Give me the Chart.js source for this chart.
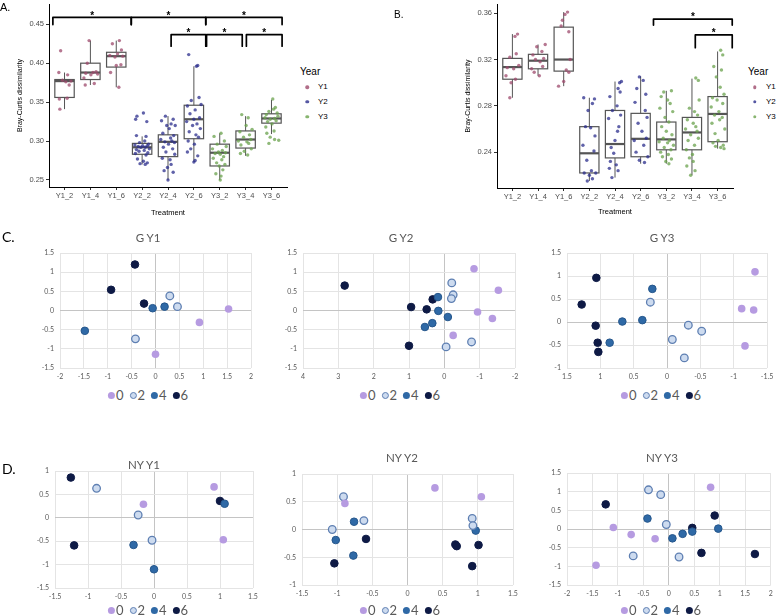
<!DOCTYPE html>
<html><head><meta charset="utf-8">
<script src="https://cdn.jsdelivr.net/npm/chart.js@4.4.1/dist/chart.umd.min.js"></script>
<style>
html,body{margin:0;padding:0;background:#fff}
body{width:776px;height:615px;overflow:hidden;position:relative;font-family:"Liberation Sans",Arial,sans-serif}
canvas{position:absolute}
.tx{position:absolute;white-space:nowrap;line-height:1;transform:translate(0,-50%)}
.c{transform:translate(-50%,-50%)}
.lg{position:absolute;display:flex;align-items:center;transform:translate(-50%,-50%);font-family:Lato,sans-serif;font-size:13px;color:#595959;white-space:nowrap}
.lg i{display:inline-block;width:7px;height:7px;border-radius:50%;margin-right:1px;box-sizing:border-box}
.lg b{font-weight:normal;margin-right:6px}
.dot{position:absolute;width:3.5px;height:3.5px;border-radius:50%;transform:translate(-50%,-50%)}
</style></head><body>
<script>
// ---------------- Panels A / B (box plots) ----------------
const treatments = ["Y1_2","Y1_4","Y1_6","Y2_2","Y2_4","Y2_6","Y3_2","Y3_4","Y3_6"];
const years = ["Y1","Y2","Y3"];
const yearColors = ["#9e4a6c","#2b2d8c","#6aa24c"];

const aTicks = [0.25,0.30,0.35,0.40,0.45];
const aLow  = [0.341,0.372,0.369,0.270,0.250,0.273,0.250,0.281,0.309];
const aQ1   = [0.356,0.379,0.395,0.283,0.280,0.303,0.268,0.291,0.323];
const aMed  = [0.377,0.388,0.409,0.292,0.299,0.328,0.285,0.302,0.329];
const aQ3   = [0.379,0.400,0.414,0.297,0.308,0.346,0.296,0.313,0.335];
const aHigh = [0.388,0.429,0.429,0.306,0.332,0.396,0.310,0.332,0.353];
const aVals = [
 [0.416,0.388,0.385,0.378,0.377,0.376,0.372,0.355,0.354,0.341],
 [0.429,0.400,0.389,0.388,0.387,0.386,0.385,0.381,0.374,0.372],
 [0.429,0.425,0.417,0.412,0.410,0.409,0.408,0.398,0.397,0.388,0.369],
 [0.336,0.332,0.328,0.325,0.307,0.306,0.300,0.298,0.296,0.295,0.294,0.294,0.293,0.292,0.292,0.290,0.289,0.288,0.287,0.285,0.284,0.282,0.277,0.274,0.272,0.271,0.270],
 [0.332,0.328,0.326,0.322,0.320,0.320,0.316,0.310,0.307,0.304,0.302,0.300,0.299,0.298,0.296,0.292,0.290,0.286,0.283,0.278,0.276,0.270,0.266,0.262,0.260,0.250],
 [0.411,0.397,0.396,0.356,0.352,0.347,0.345,0.340,0.335,0.330,0.328,0.325,0.322,0.320,0.316,0.312,0.308,0.305,0.300,0.296,0.290,0.286,0.281,0.275,0.273],
 [0.310,0.306,0.300,0.296,0.293,0.290,0.288,0.286,0.285,0.284,0.283,0.280,0.278,0.276,0.272,0.270,0.268,0.263,0.258,0.255,0.250],
 [0.334,0.330,0.320,0.315,0.312,0.308,0.305,0.302,0.300,0.299,0.297,0.295,0.290,0.287,0.284,0.282],
 [0.354,0.343,0.341,0.338,0.336,0.334,0.332,0.330,0.329,0.328,0.326,0.325,0.322,0.318,0.313,0.310,0.305,0.302,0.301,0.297]
];
const aJit = [
 [-0.15,-0.22,0.12,-0.08,0.25,0.05,0.18,0.1,-0.2,-0.18],
 [-0.05,-0.12,0.22,0.1,-0.18,0.28,0.02,-0.25,0.15,-0.2],
 [0.12,-0.15,0.2,0.05,-0.25,0.25,-0.05,0.18,0.0,-0.22,0.1],
 [0.05,-0.2,-0.25,0.18,-0.22,0.15,0.1,-0.1,0.25,-0.28,0.02,0.2,-0.15,0.12,-0.05,0.28,-0.22,0.08,-0.12,0.22,-0.26,0.15,-0.18,0.05,0.2,-0.08,0.12],
 [-0.1,0.2,-0.25,0.12,0.28,-0.05,0.05,-0.2,0.22,0.1,-0.28,0.15,-0.12,0.25,0.02,-0.18,0.18,-0.08,0.26,-0.22,0.08,0.12,-0.02,-0.15,0.2,0.0],
 [-0.2,0.15,0.1,0.2,-0.1,0.28,-0.25,0.05,-0.15,0.22,0.0,-0.28,0.12,-0.05,0.25,-0.18,0.08,0.18,-0.22,0.02,-0.12,-0.25,0.15,0.05,0.0],
 [0.05,-0.22,0.18,-0.1,0.25,-0.28,0.1,-0.05,0.22,-0.18,0.02,0.15,-0.25,0.08,-0.12,0.2,-0.02,0.12,-0.15,0.05,0.02],
 [-0.15,0.1,0.02,0.25,-0.22,0.15,-0.08,0.2,-0.28,0.05,0.12,-0.18,0.22,-0.05,-0.2,0.08],
 [0.05,0.15,0.08,-0.1,0.22,-0.2,0.25,-0.25,0.12,-0.05,0.18,-0.15,0.02,-0.22,0.1,-0.18,-0.05,0.12,0.28,-0.1]
];
// significance brackets: [from group pos, to group pos, bar level, tick end]
const aSig = [[-0.45,2.58,0.4588,0.4496],[2.58,5.46,0.4588,0.4496],[5.46,8.41,0.4588,0.4496],
              [4.12,5.46,0.4366,0.4218],[5.49,6.87,0.4366,0.4218],[7.03,8.41,0.4366,0.4218]];

const bTicks = [0.24,0.28,0.32,0.36];
const bLow  = [0.287,0.306,0.297,0.215,0.218,0.230,0.230,0.220,0.243];
const bQ1   = [0.303,0.312,0.310,0.222,0.235,0.236,0.242,0.242,0.249];
const bMed  = [0.3135,0.319,0.320,0.239,0.247,0.2515,0.251,0.257,0.273];
const bQ3   = [0.321,0.3245,0.348,0.262,0.276,0.2735,0.266,0.270,0.288];
const bHigh = [0.342,0.333,0.361,0.287,0.301,0.3055,0.293,0.3035,0.327];
const bVals = [
 [0.342,0.340,0.325,0.322,0.315,0.313,0.312,0.306,0.303,0.300,0.287],
 [0.333,0.331,0.327,0.324,0.321,0.320,0.318,0.314,0.312,0.309,0.306],
 [0.361,0.359,0.354,0.349,0.344,0.320,0.311,0.309,0.301,0.297],
 [0.287,0.286,0.282,0.276,0.262,0.261,0.254,0.246,0.241,0.233,0.224,0.222,0.222,0.220,0.217,0.215],
 [0.301,0.300,0.295,0.292,0.288,0.280,0.276,0.272,0.269,0.262,0.258,0.250,0.244,0.239,0.232,0.229,0.226,0.224,0.218],
 [0.305,0.302,0.295,0.290,0.283,0.276,0.270,0.265,0.258,0.252,0.250,0.246,0.240,0.236,0.233,0.231],
 [0.293,0.292,0.288,0.285,0.282,0.278,0.275,0.270,0.266,0.262,0.258,0.255,0.252,0.250,0.249,0.248,0.246,0.244,0.242,0.240,0.238,0.236,0.234,0.232,0.230],
 [0.304,0.302,0.285,0.278,0.275,0.272,0.268,0.265,0.262,0.260,0.258,0.255,0.252,0.250,0.246,0.242,0.238,0.235,0.232,0.228,0.224,0.220],
 [0.328,0.324,0.314,0.311,0.305,0.296,0.290,0.287,0.285,0.282,0.279,0.275,0.272,0.270,0.268,0.265,0.260,0.256,0.250,0.248,0.246,0.245,0.244,0.243]
];
const bJit = [
 [0.2,0.1,0.15,-0.1,0.25,-0.2,0.05,-0.25,0.12,-0.05,-0.1],
 [0.28,-0.05,0.15,-0.2,0.22,-0.1,0.08,0.18,-0.25,-0.15,0.05],
 [0.15,0.05,-0.05,-0.1,0.2,0.25,0.1,0.2,0.0,-0.2],
 [-0.22,0.2,0.12,-0.05,-0.15,0.05,0.22,-0.25,0.18,-0.1,0.08,-0.2,0.25,0.0,0.12,-0.08],
 [0.25,0.18,0.12,0.2,-0.2,0.08,-0.1,0.22,-0.25,0.15,0.1,0.0,-0.15,-0.05,-0.18,0.05,-0.22,0.12,-0.12],
 [-0.05,0.1,-0.15,0.2,-0.22,0.18,0.25,-0.1,0.05,0.22,-0.25,0.12,-0.18,0.28,-0.05,0.15],
 [0.2,-0.1,-0.2,0.05,0.15,-0.25,0.25,-0.05,0.1,-0.18,0.0,0.22,-0.12,0.12,-0.28,0.05,0.28,-0.08,0.18,-0.22,0.08,-0.15,0.2,-0.02,0.1],
 [0.15,0.25,0.28,-0.1,0.1,0.22,-0.18,0.05,0.15,-0.25,0.2,-0.05,0.25,-0.15,0.1,-0.22,0.02,-0.1,0.05,-0.2,0.12,-0.05],
 [0.12,0.2,-0.15,0.15,-0.05,0.1,0.25,-0.2,-0.02,0.2,-0.25,0.05,-0.12,0.18,0.08,-0.22,0.28,-0.1,0.02,-0.18,0.22,-0.08,0.12,0.25]
];
const bSig = [[5.5,8.57,0.3549,0.3498],[7.13,8.57,0.3413,0.3302]];

// ---------------- Panels C / D (ordination scatter) ----------------
const doseLabels = ["0","2","4","6"];
const gY1_0 = [[0.92,-0.31],[1.53,0.04],[0.0,-1.14]];
const gY1_2 = [[0.30,0.38],[0.46,0.10],[-0.42,-0.74]];
const gY1_4 = [[-0.06,0.06],[0.19,0.10],[-1.48,-0.53]];
const gY1_6 = [[-0.43,1.20],[-0.93,0.54],[-0.24,0.18]];
const gY2_0 = [[-0.84,1.09],[-1.53,0.53],[-0.94,-0.04],[-1.36,-0.21],[-0.25,-0.65]];
const gY2_2 = [[-0.21,0.72],[-0.25,0.41],[-0.20,0.31],[-0.77,-0.82],[-0.05,-0.95]];
const gY2_4 = [[0.18,0.35],[0.17,-0.01],[-0.10,-0.17],[0.34,-0.33],[0.55,-0.43]];
const gY2_6 = [[2.82,0.65],[0.33,0.29],[0.94,0.09],[0.50,0.03],[1.00,-0.92]];
const gY3_0 = [[-1.32,1.09],[-1.12,0.29],[-1.30,0.26],[-1.17,-0.52]];
const gY3_2 = [[0.25,0.43],[-0.32,-0.07],[-0.52,-0.20],[-0.08,-0.38],[-0.26,-0.78]];
const gY3_4 = [[0.22,0.72],[0.67,0.01],[0.37,0.04],[0.86,-0.45]];
const gY3_6 = [[1.06,0.96],[1.28,0.38],[1.07,-0.08],[1.04,-0.45],[1.03,-0.65]];
const nY1_0 = [[0.91,0.66],[-0.16,0.29],[1.05,-0.47]];
const nY1_2 = [[-0.87,0.63],[-0.24,0.06],[-0.03,-0.48]];
const nY1_4 = [[1.07,0.30],[-0.31,-0.58],[0.0,-1.10]];
const nY1_6 = [[-1.26,0.86],[1.00,0.36],[-1.21,-0.59]];
const nY2_0 = [[0.39,0.75],[1.05,0.59],[-0.89,0.47]];
const nY2_2 = [[-0.91,0.59],[0.92,0.20],[-0.62,0.16],[0.93,0.07],[-1.07,0.0]];
const nY2_4 = [[-0.76,0.14],[0.97,-0.02],[-1.02,-0.19],[-0.77,-0.47]];
const nY2_6 = [[-0.59,-0.17],[0.68,-0.27],[0.70,-0.30],[1.01,-0.28],[-1.04,-0.61],[0.92,-0.66]];
const nY3_0 = [[0.82,1.12],[-1.09,0.04],[-0.74,-0.15],[-0.27,-0.26],[-1.43,-0.97]];
const nY3_2 = [[-0.40,1.05],[-0.16,0.92],[-0.05,0.12],[-0.70,-0.72],[0.20,-0.75]];
const nY3_4 = [[-0.42,0.28],[0.97,0.01],[0.46,-0.07],[0.27,-0.13],[0.07,-0.25]];
const nY3_6 = [[-1.24,0.66],[0.90,0.36],[0.46,0.03],[0.64,-0.64],[1.69,-0.67]];

const gY1x = [-2,-1.5,-1,-0.5,0,0.5,1,1.5,2], gY1y = [-1.5,-1,-0.5,0,0.5,1,1.5];
const gY2x = [-2,-1,0,1,2,3,4],              gY2y = [-1.5,-1,-0.5,0,0.5,1,1.5];
const gY3x = [-1.5,-1,-0.5,0,0.5,1,1.5],     gY3y = [-1,-0.5,0,0.5,1,1.5];
const nY1x = [-1.5,-1,-0.5,0,0.5,1,1.5],     nY1y = [-1.5,-1,-0.5,0,0.5,1];
const nY2x = [-1.5,-1,-0.5,0,0.5,1,1.5],     nY2y = [-1,-0.5,0,0.5,1];
const nY3x = [-2,-1.5,-1,-0.5,0,0.5,1,1.5,2], nY3y = [-1.5,-1,-0.5,0,0.5,1,1.5];

// ---------------- helpers ----------------
Chart.defaults.font.family = '"Liberation Sans", Arial, sans-serif';
const dose = [
  {bg:'#b69be1', bd:'#b69be1', bw:0},
  {bg:'#cddbef', bd:'#5e7fb2', bw:1.3, ring:true},
  {bg:'#2f69a6', bd:'#25568b', bw:1},
  {bg:'#0e1a45', bd:'#0e1a45', bw:1}
];
function hexA(h,a){const n=parseInt(h.slice(1),16);return `rgba(${n>>16},${(n>>8)&255},${n&255},${a})`;}
function addCanvas(r){const c=document.createElement('canvas');c.width=r.w;c.height=r.h;c.style.left=r.l+'px';c.style.top=r.t+'px';document.body.appendChild(c);return c;}
function text(str,x,y,css,center){const d=document.createElement('div');d.className='tx'+(center?' c':'');d.textContent=str;d.style.left=x+'px';d.style.top=y+'px';d.style.cssText+=css;document.body.appendChild(d);return d;}

const boxPlugin = {
  id:'boxes',
  beforeDatasetsDraw(chart,a,o){
    const ctx=chart.ctx, xs=chart.scales.x, ys=chart.scales.y;
    ctx.save(); ctx.strokeStyle='#555555';
    for(let i=0;i<o.med.length;i++){
      const xc=xs.getPixelForValue(i), hw=Math.abs(xs.getPixelForValue(i+0.375)-xc);
      const q1=ys.getPixelForValue(o.q1[i]), q3=ys.getPixelForValue(o.q3[i]), m=ys.getPixelForValue(o.med[i]);
      const lo=ys.getPixelForValue(o.lo[i]), hi=ys.getPixelForValue(o.hi[i]);
      ctx.lineWidth=1;
      ctx.beginPath();ctx.moveTo(xc,q3);ctx.lineTo(xc,hi);ctx.moveTo(xc,q1);ctx.lineTo(xc,lo);ctx.stroke();
      ctx.lineWidth=1.2; ctx.strokeRect(xc-hw,q3,2*hw,q1-q3);
      ctx.lineWidth=2.2; ctx.beginPath();ctx.moveTo(xc-hw,m);ctx.lineTo(xc+hw,m);ctx.stroke();
    }
    ctx.restore();
  },
  afterDatasetsDraw(chart,a,o){
    const ctx=chart.ctx, xs=chart.scales.x, ys=chart.scales.y;
    ctx.save(); ctx.strokeStyle='#000'; ctx.fillStyle='#000'; ctx.lineWidth=1.7; ctx.lineJoin='round'; ctx.lineCap='round';
    ctx.font='bold 10px "Liberation Sans", Arial'; ctx.textAlign='center'; ctx.textBaseline='middle';
    o.sig.forEach(([p1,p2,top,bot])=>{
      const x1=xs.getPixelForValue(p1), x2=xs.getPixelForValue(p2), yt=ys.getPixelForValue(top), yb=ys.getPixelForValue(bot);
      ctx.beginPath();ctx.moveTo(x1,yb);ctx.lineTo(x1,yt);ctx.lineTo(x2,yt);ctx.lineTo(x2,yb);ctx.stroke();
      ctx.fillText('*',(x1+x2)/2,yt-1.5);
    });
    ctx.restore();
  }
};

function boxChart(rect,plot,st,vals,jits,ticks,yMin,yMax,sig,ttlPad,xtPad){
  const c=addCanvas(rect);
  const datasets=years.map((yr,k)=>{
    const pts=[];
    for(let j=0;j<3;j++){const i=k*3+j; vals[i].forEach((v,n)=>pts.push({x:i+jits[i][n],y:v}));}
    return {data:pts,backgroundColor:hexA(yearColors[k],0.75),borderWidth:0,pointRadius:1.7,clip:false};
  });
  new Chart(c,{type:'scatter',data:{datasets},plugins:[boxPlugin],options:{
    responsive:false,animation:false,events:[],
    layout:{padding:{left:0,top:plot.t-rect.t,right:rect.l+rect.w-plot.r,bottom:0}},
    plugins:{legend:{display:false},tooltip:{enabled:false},boxes:{...st,sig}},
    scales:{
      x:{type:'linear',min:-0.6,max:8.6,
        afterBuildTicks:s=>{s.ticks=treatments.map((t,i)=>({value:i}));},
        ticks:{callback:v=>treatments[v],autoSkip:false,maxRotation:0,color:'#4d4d4d',font:{size:7.5},padding:1},
        grid:{drawOnChartArea:false,color:'#333',tickLength:3},
        border:{color:'#000',width:1},
        title:{display:true,text:'Treatment',color:'#000',font:{size:7.5},padding:{top:0,bottom:xtPad}},
        afterFit:s=>{s.height=rect.t+rect.h-plot.b;s.paddingLeft=0;s.paddingRight=0;}},
      y:{type:'linear',min:yMin,max:yMax,
        afterBuildTicks:s=>{s.ticks=ticks.map(v=>({value:v}));},
        ticks:{callback:v=>v.toFixed(2),color:'#4d4d4d',font:{size:7.5},padding:2},
        grid:{drawOnChartArea:false,color:'#333',tickLength:3},
        border:{color:'#000',width:1},
        title:{display:true,text:'Bray-Curtis dissimilarity',color:'#000',font:{size:7},padding:{top:ttlPad,bottom:0}},
        afterFit:s=>{s.width=plot.l-rect.l;s.paddingTop=0;s.paddingBottom=0;}}
    }}});
}

function pcoa(rect,plot,sets,xT,yT,rev){
  const c=addCanvas(rect);
  const datasets=sets.map((pts,k)=>({data:pts.map(p=>({x:p[0],y:p[1]})),backgroundColor:dose[k].bg,borderColor:dose[k].bd,borderWidth:dose[k].bw,pointRadius:3.8,clip:false}));
  const gc=ctx=>ctx.tick&&ctx.tick.value===0?'#c4c4c4':'#e4e4e4';
  const tk={color:'#595959',font:{family:'Lato',size:7},callback:v=>String(v),autoSkip:false,maxRotation:0};
  new Chart(c,{type:'scatter',data:{datasets},options:{
    responsive:false,animation:false,events:[],
    layout:{padding:{left:0,top:plot.t-rect.t,right:rect.l+rect.w-plot.r,bottom:0}},
    plugins:{legend:{display:false},tooltip:{enabled:false}},
    scales:{
      x:{type:'linear',min:Math.min(...xT),max:Math.max(...xT),reverse:!!rev,
        afterBuildTicks:s=>{s.ticks=xT.map(v=>({value:v}));},
        ticks:{...tk,padding:5},grid:{color:gc,drawTicks:false,lineWidth:1},border:{display:false},
        afterFit:s=>{s.height=rect.t+rect.h-plot.b;s.paddingLeft=0;s.paddingRight=0;}},
      y:{type:'linear',min:Math.min(...yT),max:Math.max(...yT),
        afterBuildTicks:s=>{s.ticks=yT.map(v=>({value:v}));},
        ticks:{...tk,padding:6},grid:{color:gc,drawTicks:false,lineWidth:1},border:{display:false},
        afterFit:s=>{s.width=plot.l-rect.l;s.paddingTop=0;s.paddingBottom=0;}}
    }}});
}

function doseLegend(cx,cy){
  const d=document.createElement('div');d.className='lg';d.style.left=cx+'px';d.style.top=cy+'px';
  doseLabels.forEach((lab,k)=>{
    const m=document.createElement('i');m.style.background=dose[k].bg;
    if(dose[k].ring)m.style.border='1.2px solid '+dose[k].bd;
    d.appendChild(m);const t=document.createElement('b');t.textContent=lab;d.appendChild(t);
  });
  document.body.appendChild(d);
}
function yearLegend(x,dotX,textX){
  text('Year',x,71.5,'font-size:10px;color:#000;');
  years.forEach((y,k)=>{
    const cy=[87.3,101.8,116.5][k];
    const d=document.createElement('div');d.className='dot';d.style.left=dotX+'px';d.style.top=cy+'px';d.style.background=hexA(yearColors[k],0.8);document.body.appendChild(d);
    text(y,textX,cy,'font-size:8px;color:#000;');
  });
}

// ---------------- build ----------------
boxChart({l:0,t:0,w:300,h:222},{l:49,t:2,r:287,b:187},{lo:aLow,q1:aQ1,med:aMed,q3:aQ3,hi:aHigh},aVals,aJit,aTicks,0.241,0.476,aSig,15.8,4.5);
boxChart({l:440,t:0,w:300,h:222},{l:497,t:2,r:733,b:188},{lo:bLow,q1:bQ1,med:bMed,q3:bQ3,hi:bHigh},bVals,bJit,bTicks,0.209,0.368,bSig,23.8,5.5);
text('A.',0,7,'font-size:11px;color:#000;');
text('B.',394,15,'font-size:10px;color:#000;');
yearLegend(300,307,318);
yearLegend(748,754.5,766);

pcoa({l:25,t:240,w:240,h:145},{l:60,t:253,r:251,b:368},[gY1_0,gY1_2,gY1_4,gY1_6],gY1x,gY1y,false);
pcoa({l:270,t:240,w:260,h:145},{l:303,t:253,r:515,b:368},[gY2_0,gY2_2,gY2_4,gY2_6],gY2x,gY2y,true);
pcoa({l:530,t:240,w:246,h:145},{l:567,t:253,r:767,b:368},[gY3_0,gY3_2,gY3_4,gY3_6],gY3x,gY3y,true);
pcoa({l:20,t:460,w:245,h:145},{l:55,t:471,r:253,b:588},[nY1_0,nY1_2,nY1_4,nY1_6],nY1x,nY1y,false);
pcoa({l:265,t:460,w:262,h:140},{l:302,t:474,r:513,b:585},[nY2_0,nY2_2,nY2_4,nY2_6],nY2x,nY2y,false);
pcoa({l:530,t:460,w:246,h:140},{l:567,t:473,r:771,b:585},[nY3_0,nY3_2,nY3_4,nY3_6],nY3x,nY3y,false);

const tcss='font-family:Lato,sans-serif;font-size:11.5px;color:#595959;';
text('G Y1',148,238,tcss,true);
text('G Y2',401,238,tcss,true);
text('G Y3',662,238,tcss,true);
text('NY Y1',144,465,tcss,true);
text('NY Y2',402,458,tcss,true);
text('NY Y3',662,458,tcss,true);
text('C.',2,237,'font-family:Lato,sans-serif;font-size:14px;color:#000;');
text('D.',2,469,'font-family:Lato,sans-serif;font-size:14px;color:#000;');
[151,403,664].forEach(cx=>doseLegend(cx,395));
[151,403,664].forEach(cx=>doseLegend(cx,610));
</script>
</body></html>
